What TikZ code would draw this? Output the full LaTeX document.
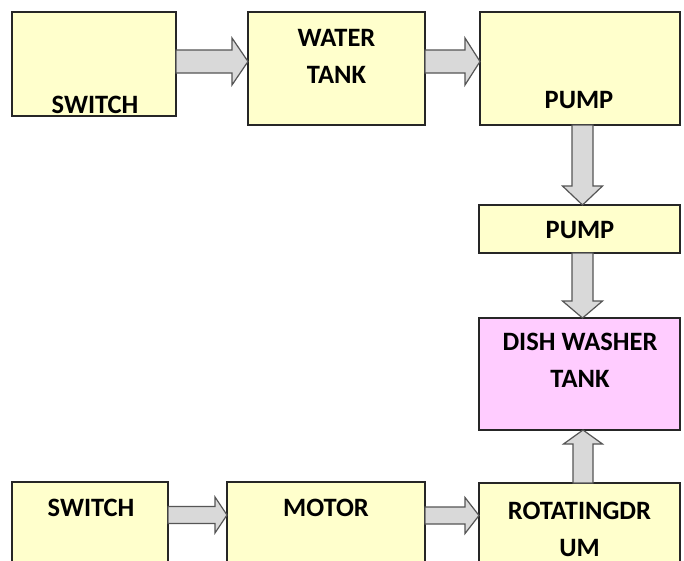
\documentclass[tikz,border=0pt]{standalone}
\usepackage{fontspec}
\setmainfont{Carlito}
\usetikzlibrary{calc}
\definecolor{boxyellow}{HTML}{FFFFCC}
\definecolor{boxpink}{HTML}{FFCCFF}
\definecolor{arrfill}{HTML}{D9D9D9}
\definecolor{arrline}{HTML}{555555}
\definecolor{boxline}{HTML}{262626}
\newcommand\harrow[6]{%
  \draw[blockarr] let \p1=(#1.east), \p2=(#2.west) in
  (\x1,#3-#4) -- (\x2-#6,#3-#4) -- (\x2-#6,#3-#5) -- (\x2,#3) -- (\x2-#6,#3+#5) -- (\x2-#6,#3+#4) -- (\x1,#3+#4) -- cycle;}
\newcommand\varrowdown[6]{%
  \draw[blockarr] let \p1=(#1.south), \p2=(#2.north) in
  (#3-#4,\y1) -- (#3-#4,\y2+#6) -- (#3-#5,\y2+#6) -- (#3,\y2) -- (#3+#5,\y2+#6) -- (#3+#4,\y2+#6) -- (#3+#4,\y1) -- cycle;}
\newcommand\varrowup[6]{%
  \draw[blockarr] let \p1=(#1.north), \p2=(#2.south) in
  (#3-#4,\y1) -- (#3-#4,\y2-#6) -- (#3-#5,\y2-#6) -- (#3,\y2) -- (#3+#5,\y2-#6) -- (#3+#4,\y2-#6) -- (#3+#4,\y1) -- cycle;}
\begin{document}
\begin{tikzpicture}[x=1pt,y=-1pt,
  box/.style={draw=boxline, line width=1.3pt, fill=boxyellow, inner sep=0pt, outer sep=0pt},
  pinkbox/.style={box, fill=boxpink},
  lbl/.style={font=\fontsize{26.5}{37}\selectfont\bfseries, anchor=base, inner sep=0pt, align=center},
  blockarr/.style={draw=arrline, line width=1.2pt, fill=arrfill, line join=miter}]
\useasboundingbox (0,0) rectangle (684,560);
\fill[white] (0,0) rectangle (684,560);
\clip (0,0) rectangle (684,560);
% boxes
\node[box, minimum width=164pt, minimum height=104pt] (sw1) at (94,64) {};
\node[box, minimum width=177pt, minimum height=113pt] (water) at (336.5,68.5) {};
\node[box, minimum width=200pt, minimum height=113pt] (pump1) at (580,68.5) {};
\node[box, minimum width=201pt, minimum height=48pt] (pump2) at (579.5,229) {};
\node[pinkbox, minimum width=201pt, minimum height=112pt] (dish) at (579.5,374) {};
\node[box, minimum width=156pt, minimum height=118pt] (sw2) at (90,541) {};
\node[box, minimum width=198pt, minimum height=118pt] (motor) at (326,541) {};
\node[box, minimum width=201pt, minimum height=117pt] (drum) at (579.5,541.5) {};
% labels (base = baseline of the last line)
\node[lbl] (tsw1) at (95,113) {SWITCH};
\node[lbl] (twater) at (336.5,83) {WATER\\TANK};
\node[lbl] (tpump1) at (579,108) {PUMP};
\node[lbl] (tpump2) at (580,238) {PUMP};
\node[lbl] (tdish) at (580,387) {DISH WASHER\\TANK};
\node[lbl] (tsw2) at (91,516) {SWITCH};
\node[lbl] (tmotor) at (326,516) {MOTOR};
\node[lbl] (tdrum) at (579.5,556) {ROTATINGDR\\UM};
% arrows
\harrow{sw1}{water}{61.5}{11.5}{23.5}{16}
\harrow{water}{pump1}{61.5}{11.5}{23.5}{15}
\varrowdown{pump1}{pump2}{582.5}{10.5}{20}{19}
\varrowdown{pump2}{dish}{582.5}{10.5}{20}{17}
\harrow{sw2}{motor}{515}{8.5}{18}{12}
\harrow{motor}{drum}{515.5}{8.5}{18}{14}
\varrowup{drum}{dish}{583}{10}{19.5}{14}
\end{tikzpicture}
\end{document}
